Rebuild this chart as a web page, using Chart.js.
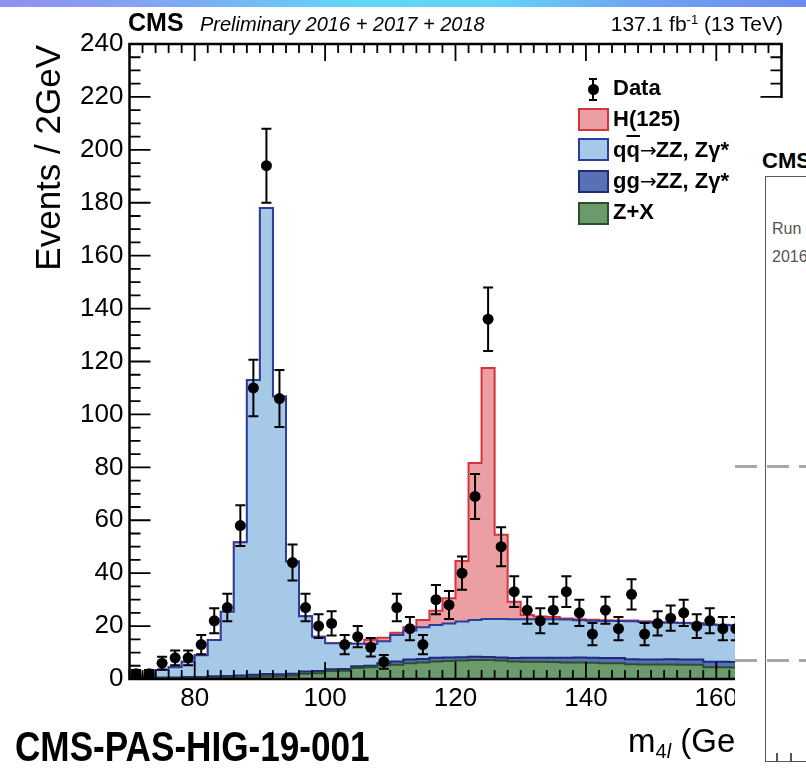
<!DOCTYPE html>
<html>
<head>
<meta charset="utf-8">
<script src="https://cdn.jsdelivr.net/npm/chart.js@4.4.1/dist/chart.umd.min.js"></script>
<style>
  html, body { margin: 0; padding: 0; background: #fff; }
  body { width: 806px; height: 768px; position: relative; overflow: hidden;
         font-family: "Liberation Sans", Arial, Helvetica, sans-serif; }
  #plot { position: absolute; left: 0; top: 0; }
  #topbar { position: absolute; left: 0; top: 0; width: 806px; height: 7px;
            background: linear-gradient(90deg, #9290f0 0%, #7fa8f4 22%, #5fd8f7 45%, #63d2f6 62%, #6fa2f2 80%, #6d8bef 100%); }
  .t { position: absolute; white-space: nowrap; line-height: 1; color: #000; }
  .arr { font-family: "DejaVu Sans", sans-serif; font-weight: normal; font-size: 20px; letter-spacing: -1px; }
  .box { position: absolute; left: 578px; width: 27px; height: 19px; border: 2px solid; }
  #cover { position: absolute; left: 735px; top: 98px; width: 71px; height: 670px; background: #fff; }
  #frame2 { position: absolute; left: 765px; top: 176px; width: 100px; height: 584px; border: 1.5px solid #555; }
  .dash { position: absolute; left: 735px; width: 71px; height: 3px;
          background: repeating-linear-gradient(90deg, #a8a8a8 0 22px, transparent 22px 32px); }
  .tk { position: absolute; top: 753px; width: 1.5px; height: 8px; background: #555; }
</style>
</head>
<body>
<div id="topbar"></div>
<canvas id="plot" width="806" height="768"></canvas>

<div class="t" style="left:128px; top:10px; font-size:25px; font-weight:bold;">CMS</div>
<div class="t" style="left:200px; top:14px; font-size:20px; font-style:italic;">Preliminary 2016 + 2017 + 2018</div>
<div class="t" style="right:23px; top:13px; font-size:21px;">137.1 fb<sup style="font-size:13px; vertical-align:7px;">-1</sup> (13 TeV)</div>

<div class="t" style="left:29.5px; top:285px; width:240px; text-align:right; font-size:35px; transform:rotate(-90deg); transform-origin:left top;">Events / 2GeV</div>
<div class="t" style="left:628px; top:724px; font-size:33px;">m<sub style="font-size:20px; vertical-align:-6px;">4<i>l</i></sub> (GeV)</div>
<div class="t" style="left:15px; top:725px; font-size:43px; font-weight:bold; transform:scaleX(0.817); transform-origin:left top;">CMS-PAS-HIG-19-001</div>

<!-- legend -->
<div style="position:absolute; left:592px; top:78px; width:2px; height:23px; background:#000;"></div>
<div style="position:absolute; left:589px; top:78px; width:8px; height:2px; background:#000;"></div>
<div style="position:absolute; left:589px; top:99px; width:8px; height:2px; background:#000;"></div>
<div style="position:absolute; left:588px; top:84px; width:11px; height:11px; border-radius:50%; background:#000;"></div>
<div class="t" style="left:613px; top:77px; font-size:22px; font-weight:bold;">Data</div>
<div class="box" style="top:108px; background:#eb9fa3; border-color:#d4343c;"></div>
<div class="t" style="left:613px; top:108px; font-size:22px; font-weight:bold;">H(125)</div>
<div class="box" style="top:138px; background:#a6c9e8; border-color:#2e3c9e;"></div>
<div class="t" style="left:613px; top:139px; font-size:22px; font-weight:bold;">q<span style="text-decoration:overline;">q</span><span class="arr">→</span>ZZ, Zγ*</div>
<div class="box" style="top:170px; background:#5870b4; border-color:#1e2a7c;"></div>
<div class="t" style="left:613px; top:170px; font-size:22px; font-weight:bold;">gg<span class="arr">→</span>ZZ, Zγ*</div>
<div class="box" style="top:202px; background:#6c9b6b; border-color:#2d4f2c;"></div>
<div class="t" style="left:613px; top:201px; font-size:22px; font-weight:bold;">Z+X</div>

<!-- neighbouring plot covering the right edge -->
<div id="cover"></div>
<div class="t" style="left:762px; top:150px; font-size:22px; font-weight:bold;">CMS</div>
<div id="frame2"></div>
<div class="t" style="left:772px; top:221px; font-size:16px; color:#555;">Run 2</div>
<div class="t" style="left:772px; top:249px; font-size:16px; color:#555;">2016</div>
<div class="dash" style="top:465px;"></div>
<div class="dash" style="top:659px;"></div>
<div class="tk" style="left:776px;"></div>
<div class="tk" style="left:790px;"></div>

<script>
// m4l bin edges (GeV), 2 GeV bins
const binEdges = [70,72,74,76,78,80,82,84,86,88,90,92,94,96,98,100,102,104,106,108,
                  110,112,114,116,118,120,122,124,126,128,130,132,134,136,138,140,142,144,146,148,
                  150,152,154,156,158,160,162,164,166,168,170];

// expected events per bin, one value per bin
const zxEvents = [0.1,0.1,0.2,0.2,0.3,0.3,0.4,0.5,0.6,0.8,
                  1.0,1.0,1.2,2.0,2.2,3.0,3.1,4.2,4.4,5.2,
                  5.4,6.0,6.2,6.6,6.8,7.0,7.2,7.2,7.0,6.6,
                  6.5,6.5,6.4,6.2,6.2,6.1,6.0,6.0,5.6,5.5,
                  5.5,5.5,5.4,5.4,4.4,4.4,4.3,4.2,4.1,4.0];
const ggEvents = [0.3,0.3,0.4,0.4,0.5,0.5,0.6,0.6,0.7,0.8,
                  0.9,0.8,0.8,0.8,0.8,0.7,0.7,0.6,0.6,0.8,
                  1.2,1.4,1.4,1.4,1.3,1.2,1.2,1.1,1.1,1.3,
                  1.5,1.5,1.6,1.8,1.9,1.9,1.9,1.9,1.9,1.9,
                  1.9,2.0,2.0,2.0,2.1,2.1,2.1,2.1,2.1,2.1];
const qqEvents = [0.6,0.8,2.8,3.8,5.7,8.2,13.7,24.3,50.4,111.4,
                  176.1,105,42.4,20.9,13,9.8,9.7,8.5,8.2,8.3,
                  10,10.9,12,12.4,12.9,13.5,13.9,14.4,14.6,14.7,
                  14.6,14.6,14.6,14.5,14.1,14,14,14,14.3,14.1,
                  13.9,13.8,13.8,13.6,14,13.9,13.8,13.7,13.6,13.4];
const higgsEvents = [0,0,0,0,0,0,0,0,0,0,
                     0,0,0,0,0,0,0,0,1.6,1.3,
                     0.9,1.3,2.7,5.4,9.5,22.9,59.3,94.8,31.8,6.6,
                     1.6,1.0,0.8,0.4,0.4,0.4,0.3,0.2,0.3,0.3,
                     0.2,0.1,0.1,0.1,0.1,0.1,0.1,0.1,0.1,0.1];

// observed events per bin and their uncertainties
const dataCounts = [2,2,6,8,8,13,22,27,58,110,
                    194,106,44,27,20,21,13,16,12,6.5,
                    27,19,13,30,28,40,69,136,50,33,
                    26,22,26,33,25,17,26,19,32,17,
                    21,23,25,20,22,19,19,21,17,20];
const dataErr = [1.4,1.4,2.4,2.8,2.8,3.6,4.7,5.2,7.7,10.7,
                 14,10.8,6.8,5.2,4.5,4.6,3.6,4,3.5,2.6,
                 5.2,4.4,3.6,5.5,5.3,6.3,8.5,12,7.4,5.8,
                 5.1,4.7,5.1,5.8,5,4.2,5.1,4.4,5.7,4.2,
                 4.6,4.8,5,4.5,4.7,4.4,4.4,4.6,4.2,4.5];

const xTickValues = [80, 100, 120, 140, 160];
const yTickValues = [0, 20, 40, 60, 80, 100, 120, 140, 160, 180, 200, 220, 240];

const FONT = '"Liberation Sans", Arial, Helvetica, sans-serif';

function stepSet(label, values, fillColor, lineColor, fill) {
    return {
        label: label,
        data: binEdges.map((x, i) => ({ x: x, y: values[Math.min(i, values.length - 1)] })),
        stepped: true,
        fill: fill,
        backgroundColor: fillColor,
        borderColor: lineColor,
        borderWidth: 2,
        pointRadius: 0
    };
}

// ROOT style frame with inward ticks on all four sides
const frameTicks = {
    id: 'frameTicks',
    afterDatasetsDraw(chart) {
        const { ctx, chartArea: a, scales: { x, y } } = chart;
        ctx.save();
        ctx.strokeStyle = '#000';
        ctx.lineWidth = 1.8;
        ctx.beginPath();
        for (let m = 70; m <= 170; m += 2) {
            const px = x.getPixelForValue(m);
            const len = m % 20 === 0 ? 17 : 9;
            ctx.moveTo(px, a.bottom); ctx.lineTo(px, a.bottom - len);
            ctx.moveTo(px, a.top); ctx.lineTo(px, a.top + len);
        }
        for (let v = 0; v <= 240; v += 5) {
            const py = y.getPixelForValue(v);
            const len = v % 20 === 0 ? 21 : 11;
            ctx.moveTo(a.left, py); ctx.lineTo(a.left + len, py);
            ctx.moveTo(a.right, py); ctx.lineTo(a.right - len, py);
        }
        ctx.stroke();
        ctx.lineWidth = 2.5;
        ctx.strokeRect(a.left, a.top, a.right - a.left, a.bottom - a.top);
        ctx.restore();
    }
};

const errorBars = {
    id: 'errorBars',
    afterDatasetsDraw(chart) {
        const { ctx, scales: { x, y } } = chart;
        ctx.save();
        ctx.strokeStyle = '#000';
        ctx.lineWidth = 2;
        ctx.beginPath();
        dataCounts.forEach((n, i) => {
            const px = x.getPixelForValue(binEdges[i] + 1);
            const y1 = y.getPixelForValue(Math.max(n - dataErr[i], 0));
            const y2 = y.getPixelForValue(n + dataErr[i]);
            ctx.moveTo(px, y1); ctx.lineTo(px, y2);
            ctx.moveTo(px - 5, y1); ctx.lineTo(px + 5, y1);
            ctx.moveTo(px - 5, y2); ctx.lineTo(px + 5, y2);
        });
        ctx.stroke();
        ctx.restore();
    }
};

new Chart(document.getElementById('plot'), {
    type: 'line',
    data: {
        datasets: [
            stepSet('Z+X', zxEvents, '#6c9b6b', '#2d4f2c', 'origin'),
            stepSet('gg->ZZ', ggEvents, '#5870b4', '#1e2a7c', '-1'),
            stepSet('qq->ZZ', qqEvents, '#a6c9e8', '#2e3c9e', '-1'),
            stepSet('H(125)', higgsEvents, '#eb9fa3', '#d4343c', '-1'),
            {
                type: 'scatter',
                label: 'Data',
                data: dataCounts.map((n, i) => ({ x: binEdges[i] + 1, y: n })),
                stack: 'data',
                order: -1,
                pointRadius: 5.5,
                backgroundColor: '#000',
                borderWidth: 0,
                showLine: false
            }
        ]
    },
    options: {
        responsive: false,
        animation: false,
        devicePixelRatio: 1,
        events: [],
        layout: { padding: { top: 44, right: 24.5, left: 0, bottom: 0 } },
        plugins: { legend: { display: false }, tooltip: { enabled: false } },
        scales: {
            x: {
                type: 'linear', min: 70, max: 170,
                afterBuildTicks: s => { s.ticks = xTickValues.map(v => ({ value: v })); },
                afterFit: s => { s.height = 89; },
                grid: { display: false, drawTicks: false },
                border: { display: false },
                ticks: { color: '#000', padding: 4, maxRotation: 0, autoSkip: false,
                         font: { family: FONT, size: 26 } }
            },
            y: {
                type: 'linear', min: 0, max: 240, stacked: true,
                afterBuildTicks: s => { s.ticks = yTickValues.map(v => ({ value: v })); },
                afterFit: s => { s.width = 129.5; },
                grid: { display: false, drawTicks: false },
                border: { display: false },
                ticks: { color: '#000', padding: 6, autoSkip: false,
                         font: { family: FONT, size: 26 } }
            }
        }
    },
    plugins: [frameTicks, errorBars]
});
</script>
</body>
</html>
